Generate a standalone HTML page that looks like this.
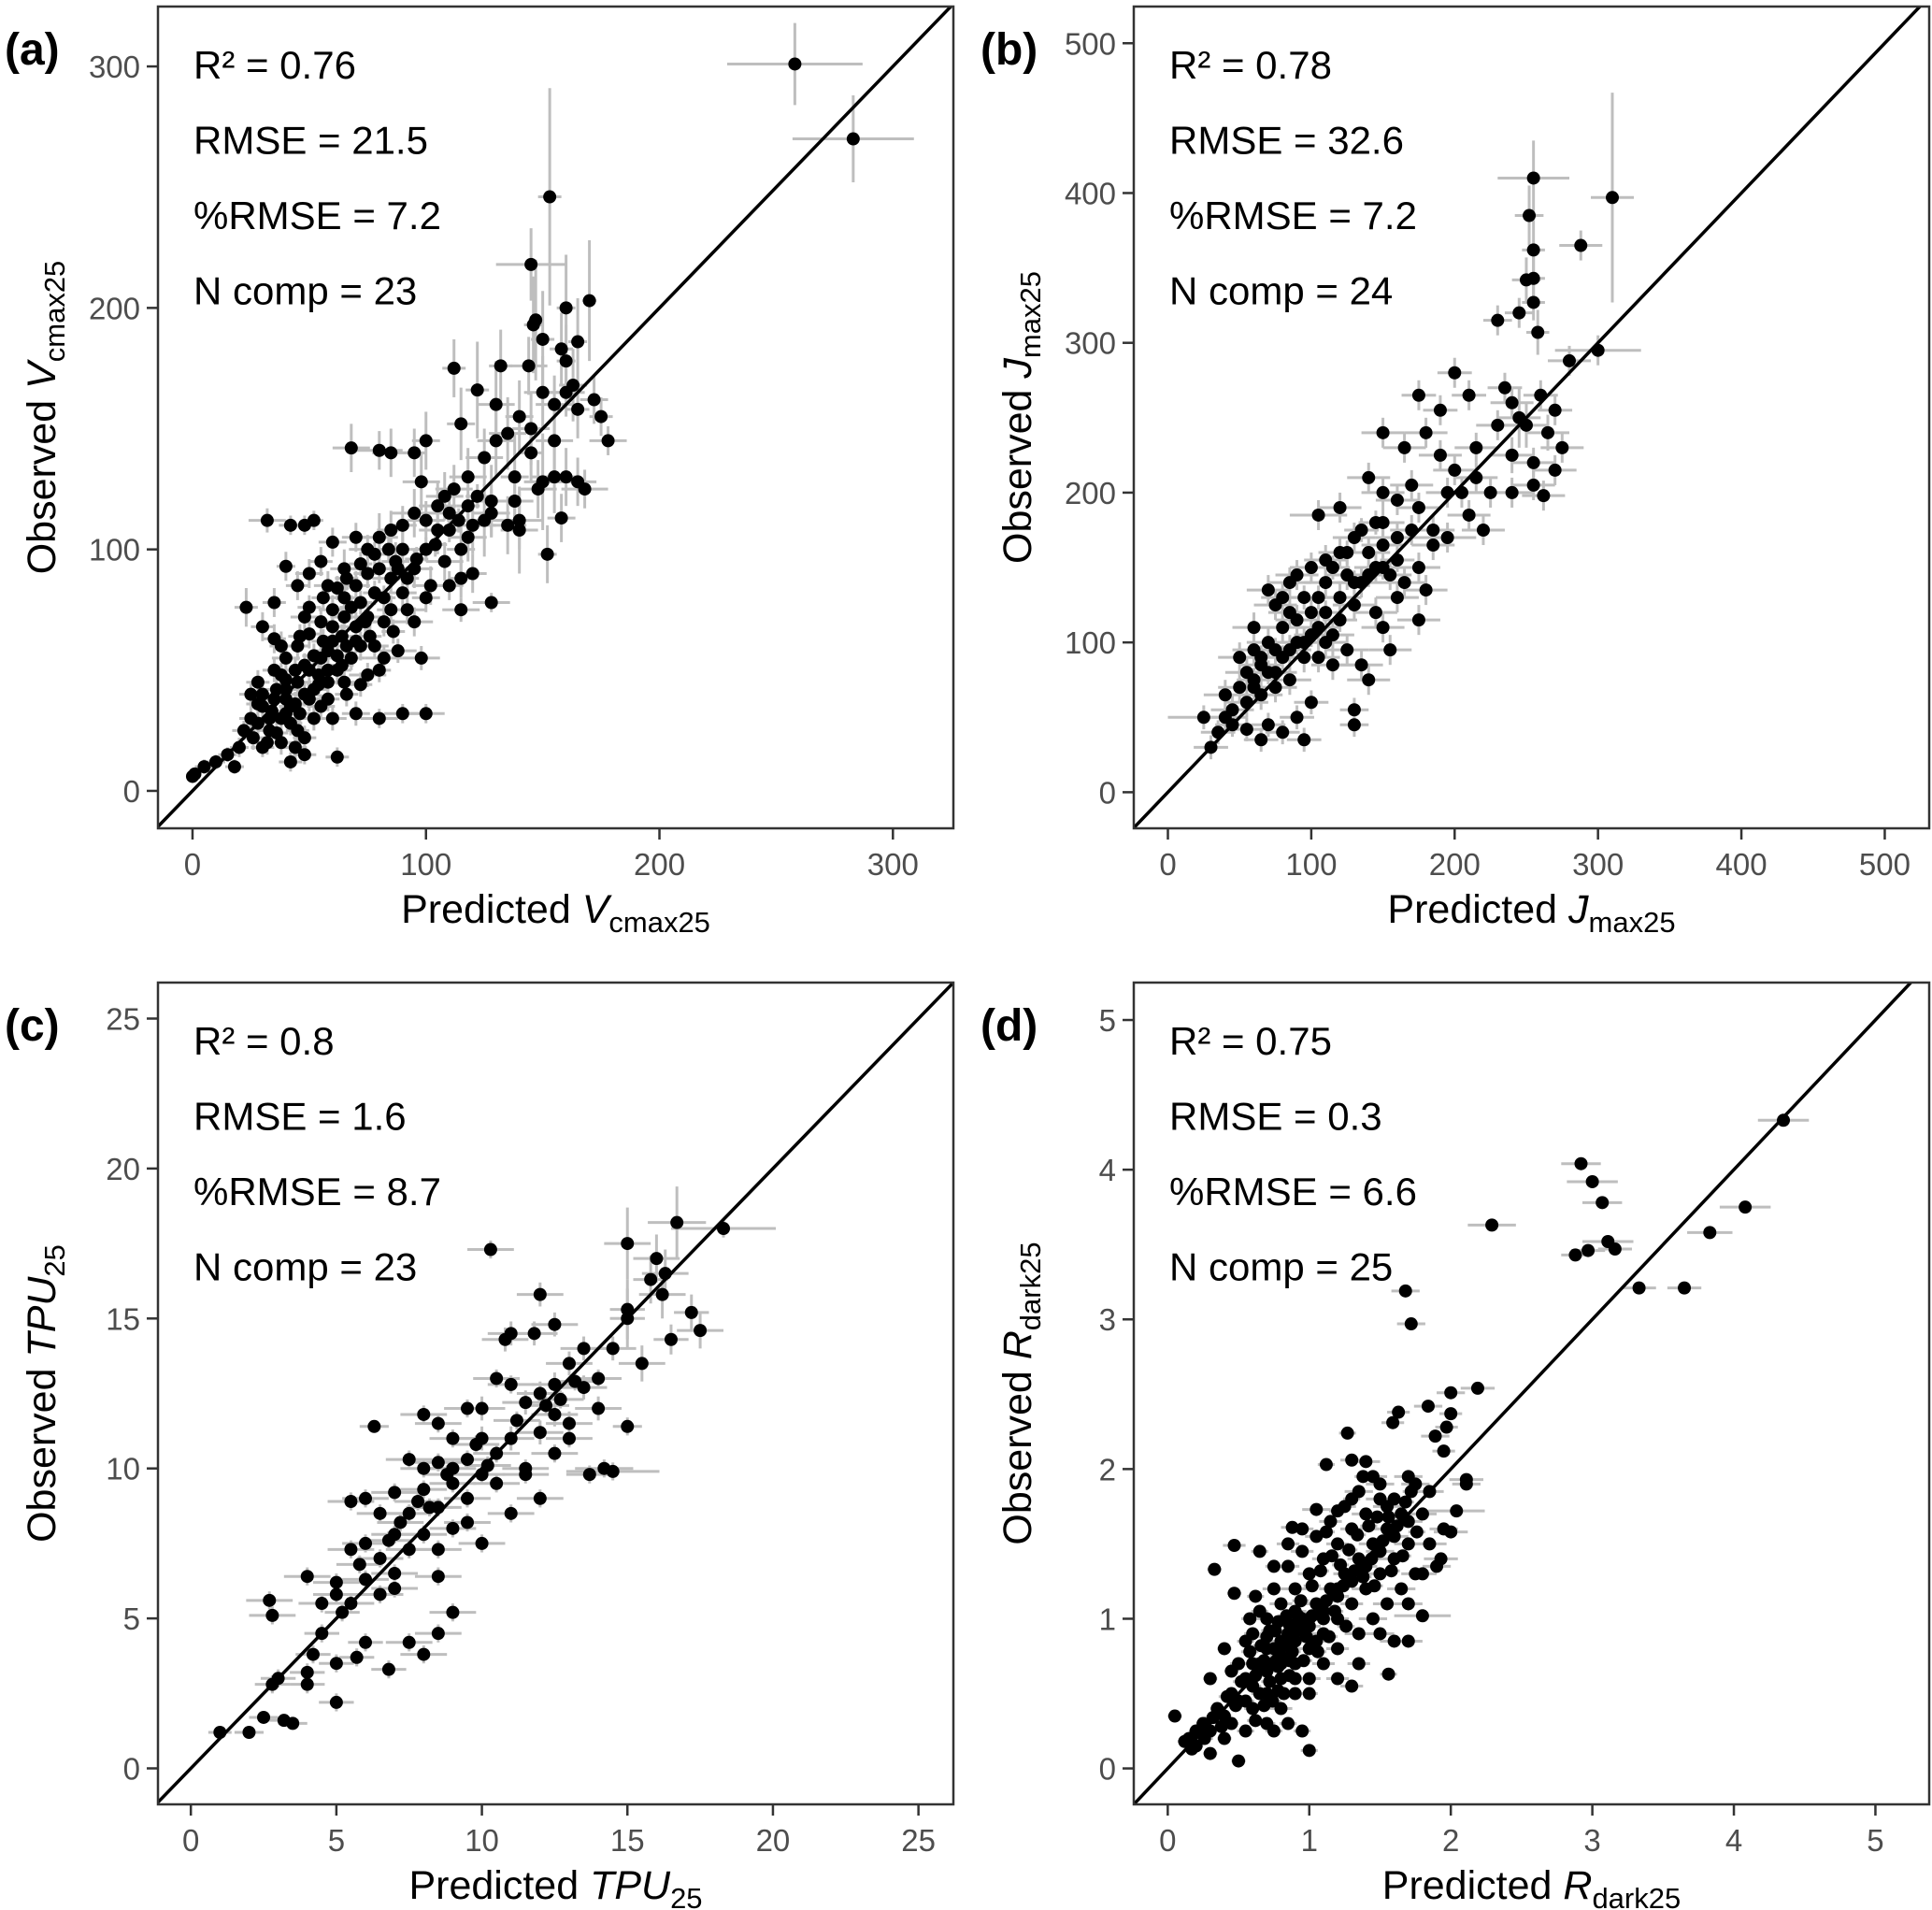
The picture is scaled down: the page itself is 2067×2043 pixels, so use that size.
<!DOCTYPE html>
<html><head><meta charset="utf-8"><style>
html,body{margin:0;padding:0;background:#fff;}
svg{display:block;font-family:"Liberation Sans",Arial,sans-serif;}
</style></head><body>
<svg id="fig" width="2067" height="2043" viewBox="0 0 2067 2043" xmlns="http://www.w3.org/2000/svg"></svg>
<script>
// Panel data: [predicted, observed, x-error, y-error]
const pointsA = [[258,301,29,17],[283,270,26,18],[153,246,5,45],[145,218,15,15],[170,203,3,25],[160,200,4,22],[147,195,3,25],[146,193,4,20],[150,187,5,20],[165,186,4,18],[158,183,5,15],[160,178,4,15],[144,176,8,12],[132,176,5,15],[112,175,5,12],[163,168,6,15],[160,165,8,10],[172,162,6,10],[175,155,5,8],[178,145,8,6],[165,158,5,12],[155,160,8,12],[140,155,6,15],[130,160,8,18],[122,166,5,20],[115,152,6,15],[100,145,6,12],[95,140,5,10],[85,140,8,10],[68,142,8,10],[80,141,10,8],[130,145,8,15],[145,140,5,12],[138,130,6,18],[150,128,8,20],[160,130,6,12],[168,125,10,8],[165,128,8,10],[155,130,10,15],[128,120,8,15],[120,110,10,12],[110,115,6,10],[125,112,8,15],[135,110,8,12],[140,108,8,18],[115,100,6,10],[105,108,8,10],[100,112,8,8],[95,115,10,10],[90,110,6,8],[85,108,6,8],[80,105,8,10],[140,112,10,12],[158,113,6,10],[152,98,4,12],[120,90,6,8],[115,88,5,8],[110,85,6,6],[100,80,6,6],[90,82,6,8],[128,78,8,4],[115,75,8,5],[95,92,8,8],[87,95,6,8],[75,100,8,6],[70,105,6,6],[60,103,6,6],[55,95,5,6],[50,90,6,6],[45,85,5,6],[40,93,4,6],[35,78,5,6],[23,76,5,8],[32,112,8,5],[42,110,5,4],[48,110,5,4],[52,112,4,4],[30,68,5,6],[35,63,5,6],[40,55,6,5],[45,60,5,6],[50,65,6,6],[55,70,6,6],[60,75,6,6],[65,80,6,6],[70,85,6,6],[75,90,6,6],[80,92,6,6],[85,88,8,6],[65,72,6,6],[70,68,6,6],[60,62,6,6],[55,55,6,6],[50,50,6,6],[45,45,6,6],[40,42,6,6],[35,38,6,5],[30,35,5,5],[25,30,5,5],[22,25,5,4],[28,45,5,5],[38,48,5,5],[48,40,6,5],[58,45,6,5],[68,55,6,5],[78,60,6,5],[88,58,8,5],[98,55,8,5],[82,55,8,5],[75,48,8,5],[65,45,6,5],[55,35,6,5],[60,30,6,5],[70,32,6,5],[80,30,8,4],[90,32,8,4],[100,32,8,4],[45,25,5,5],[38,20,5,5],[42,12,5,4],[48,15,5,4],[62,14,5,4],[30,18,5,4],[20,18,4,4],[18,10,4,3],[10,12,4,3],[5,10,4,3],[1,7,2,2],[0,6,2,2],[15,15,4,3],[33,30,5,5],[42,35,5,5],[52,42,6,5],[62,50,6,6],[72,60,6,6],[82,70,6,6],[92,75,8,6],[102,85,8,8],[108,95,8,8],[118,105,8,10],[128,115,8,10],[138,120,8,12],[148,125,8,12],[58,85,6,6],[48,72,6,6],[38,60,5,6],[65,92,6,8],[90,100,8,8],[105,118,8,10],[112,125,8,10],[118,130,8,12],[125,138,8,12],[135,148,8,15],[145,150,8,15],[150,165,8,15],[155,145,8,15],[108,122,8,10],[98,128,8,12],[75,72,6,6],[85,75,6,6],[95,70,8,6],[35,50,5,5],[25,40,5,5],[28,28,5,5],[33,25,5,5]];
const moreA = [[36,42,5,5],[40,38,5,5],[44,36,5,5],[34,33,5,5],[38,30,5,5],[42,28,5,5],[46,32,5,5],[50,38,5,5],[54,44,5,5],[52,56,5,5],[56,62,5,5],[60,68,5,5],[64,64,5,5],[58,58,5,5],[62,56,5,5],[66,60,5,5],[68,76,5,5],[72,78,5,5],[74,70,5,5],[78,82,5,5],[82,80,5,5],[76,64,5,5],[70,62,5,5],[64,52,5,5],[58,50,5,5],[54,48,5,5],[48,52,5,5],[44,50,5,5],[40,46,5,5],[30,40,5,5],[28,36,5,5],[26,22,5,5],[32,20,5,5],[36,24,5,5],[40,32,5,5],[46,64,5,5],[50,76,5,5],[56,80,5,5],[62,84,5,5],[66,88,5,5],[72,94,5,5],[78,98,5,5],[84,100,5,5],[88,92,5,5],[92,88,5,5],[96,96,5,5],[100,100,5,5],[104,102,5,5],[110,108,5,5],[114,112,5,5],[118,118,5,5],[122,122,5,5],[86,66,5,5],[80,50,5,5],[72,44,5,5],[66,40,5,5],[58,38,5,5],[52,30,5,5],[48,22,5,5],[44,18,5,5]];
const pointsB = [[255,410,25,25],[310,397,15,70],[252,385,10,20],[288,365,15,10],[255,362,8,20],[250,342,10,15],[255,343,8,15],[255,327,8,12],[258,307,8,15],[245,320,10,10],[230,315,10,10],[200,280,12,10],[175,265,12,10],[190,255,12,10],[210,265,12,10],[235,270,12,10],[260,265,12,10],[270,255,12,10],[300,295,30,10],[280,288,15,10],[245,250,15,20],[250,245,15,15],[265,240,15,12],[275,230,15,10],[240,225,15,12],[255,220,15,10],[270,215,15,10],[255,205,15,10],[262,198,15,10],[240,200,15,10],[225,200,15,10],[215,210,15,10],[205,200,15,10],[200,215,15,10],[190,225,15,10],[180,240,15,10],[165,230,15,10],[150,240,15,10],[140,210,15,10],[150,200,15,10],[160,195,15,10],[175,190,15,10],[185,175,15,10],[195,170,20,10],[170,175,15,10],[160,170,15,10],[150,165,15,10],[140,160,15,10],[130,170,15,10],[120,160,15,10],[110,155,15,10],[125,145,15,10],[135,140,15,10],[145,150,15,10],[155,145,15,10],[165,140,15,10],[175,150,15,10],[180,135,15,10],[145,120,15,10],[130,125,15,10],[120,130,15,10],[110,140,15,10],[100,120,15,10],[90,115,15,10],[80,110,15,10],[70,100,15,10],[60,95,15,10],[50,90,15,10],[55,80,15,10],[65,85,15,10],[75,80,15,10],[85,75,15,10],[95,100,15,10],[105,110,15,10],[115,105,15,10],[125,95,15,10],[135,85,15,10],[140,75,15,10],[130,55,10,8],[130,45,10,8],[105,90,15,10],[115,85,15,10],[95,90,15,10],[85,95,15,10],[75,70,15,10],[65,65,15,10],[55,60,15,10],[45,55,15,10],[40,50,15,10],[35,40,12,8],[30,30,12,8],[25,50,25,8],[45,45,12,8],[55,42,12,8],[65,35,12,8],[80,40,12,8],[95,35,12,8],[105,185,20,10],[100,150,15,10],[90,145,15,10],[80,130,15,10],[70,135,15,10],[120,190,15,10],[85,120,15,10],[60,110,15,10],[50,70,15,10],[40,65,15,10],[110,100,15,10],[150,180,15,10],[170,205,15,10],[185,165,15,10],[210,185,15,10],[220,175,15,10],[195,200,15,10],[215,230,15,10],[230,245,15,10],[240,260,15,10],[150,110,15,10],[155,95,15,10],[160,130,15,10],[175,115,15,10],[100,60,12,8],[90,50,12,8],[70,45,12,8],[60,75,12,8],[75,125,15,10],[85,140,15,10],[70,80,12,8],[80,90,12,8],[90,100,12,8],[100,105,12,8],[110,120,12,8],[120,115,12,8],[130,140,12,8],[140,145,12,8],[150,150,12,8],[160,155,12,8],[60,70,12,8],[65,90,12,8],[75,95,12,8],[95,130,12,8],[105,130,12,8],[115,150,12,8],[125,160,12,8],[135,175,12,8],[145,180,12,8]];
const pointsC = [[18.3,18,1.8,0.3],[16.7,18.2,1,1.2],[15,17.5,0.8,1.2],[10.3,17.3,0.8,0.3],[16,17,0.8,0.8],[16.3,16.5,0.8,0.8],[15.8,16.3,0.6,0.8],[16.2,15.8,0.8,0.8],[12,15.8,0.8,0.4],[17.2,15.2,0.6,0.6],[17.5,14.6,0.8,0.6],[16.5,14.3,0.6,0.5],[15,15.3,0.6,1],[15,15,0.6,1],[12.5,14.8,0.8,0.4],[11,14.5,0.8,0.4],[10.8,14.3,0.8,0.4],[11.8,14.5,0.8,0.4],[13.5,14,0.8,0.4],[14.5,14,0.8,0.4],[15.5,13.5,0.8,0.6],[13,13.5,0.8,0.4],[12.5,12.8,0.8,0.4],[12,12.5,0.8,0.4],[11.5,12.2,0.8,0.4],[10,12,0.8,0.4],[8,11.8,0.8,0.3],[6.3,11.4,0.5,0.2],[8.5,11.5,0.8,0.3],[9,11,0.8,0.3],[10,11,0.8,0.4],[11,11,0.8,0.4],[12,11.2,0.8,0.4],[13,11.5,0.8,0.4],[13.5,12.7,0.8,0.4],[14,12,0.8,0.4],[12.5,11.8,0.8,0.4],[9.5,10.3,0.8,0.3],[8.5,10.2,0.8,0.3],[8,10,0.8,0.3],[7.5,10.3,0.8,0.3],[9,10,0.8,0.3],[10.5,10.5,0.8,0.3],[11.5,10,0.8,0.3],[10,9.8,0.8,0.3],[9,9.5,0.8,0.3],[8,9.3,0.8,0.3],[7,9.2,0.8,0.3],[6,9,0.8,0.3],[5.5,8.9,0.8,0.3],[6.5,8.5,0.8,0.3],[7.5,8.5,0.8,0.3],[8.5,8.7,0.8,0.3],[9.5,9,0.8,0.3],[10.5,9.5,0.8,0.3],[11,8.5,0.8,0.3],[12,9,0.8,0.3],[14.2,10,1,0.3],[14.5,9.9,1.6,0.3],[15,11.4,0.5,0.3],[9,8,0.8,0.3],[8,7.8,0.8,0.3],[7,7.8,0.8,0.3],[6,7.5,0.8,0.3],[5.5,7.3,0.8,0.3],[6.5,7,0.8,0.3],[7.5,7.3,0.8,0.3],[8.5,7.3,0.8,0.3],[10,7.5,0.8,0.3],[7,6.5,0.8,0.3],[6,6.3,0.8,0.3],[5,6.2,0.8,0.3],[4,6.4,0.8,0.3],[2.7,5.6,0.8,0.3],[2.8,5.1,0.8,0.3],[4.5,5.5,0.8,0.3],[5,5.8,0.8,0.3],[5.5,5.5,0.8,0.3],[6.5,5.8,0.8,0.3],[7,6,0.8,0.3],[8.5,6.4,0.8,0.3],[9,5.2,0.8,0.3],[8.5,4.5,0.8,0.3],[7.5,4.2,0.8,0.3],[8,3.8,0.8,0.3],[6.8,3.3,0.6,0.3],[5.7,3.7,0.6,0.3],[5,3.5,0.6,0.3],[4.2,3.8,0.6,0.3],[4,3.2,0.6,0.3],[4,2.8,0.6,0.3],[5,2.2,0.6,0.3],[3,3,0.6,0.3],[2.8,2.8,0.6,0.3],[2.5,1.7,0.5,0.2],[3.2,1.6,0.5,0.2],[3.5,1.5,0.5,0.2],[2,1.2,0.5,0.2],[1,1.2,0.4,0.2],[4.5,4.5,0.6,0.3],[6,4.2,0.6,0.3],[5.2,5.2,0.6,0.3],[9.5,8.2,0.8,0.3],[11.5,9.8,0.8,0.3],[12.5,10.5,0.8,0.3],[13,11,0.8,0.3],[13.7,9.8,0.8,0.3],[12.7,12.3,0.8,0.3],[14,13,0.8,0.3],[11,12.8,0.8,0.3],[10.5,13,0.8,0.3],[9.5,12,0.8,0.3],[8.2,8.7,0.8,0.3],[7.2,8.2,0.8,0.3],[9.8,10.8,0.8,0.3],[10.2,10.1,0.8,0.3],[11.2,11.6,0.8,0.3],[12.2,12.1,0.8,0.3],[13.2,12.9,0.8,0.3],[7.8,8.9,0.8,0.3],[6.8,7.6,0.8,0.3],[5.8,6.8,0.8,0.3],[8.8,9.8,0.8,0.3]];
const pointsD = [[4.35,4.33,0.18,0.02],[4.08,3.75,0.18,0.02],[3.83,3.58,0.16,0.02],[3.65,3.21,0.12,0.02],[3.33,3.21,0.12,0.02],[2.92,4.04,0.14,0.02],[3,3.92,0.18,0.02],[3.07,3.78,0.14,0.02],[2.29,3.63,0.17,0.02],[3.11,3.52,0.18,0.02],[3.16,3.47,0.12,0.02],[2.97,3.46,0.12,0.02],[2.88,3.43,0.1,0.02],[1.68,3.19,0.1,0.02],[1.72,2.97,0.1,0.02],[2.19,2.54,0.12,0.02],[2,2.51,0.1,0.02],[1.84,2.42,0.1,0.02],[1.63,2.38,0.08,0.02],[2,2.37,0.08,0.02],[1.59,2.31,0.08,0.02],[1.97,2.28,0.08,0.02],[1.89,2.22,0.1,0.02],[1.27,2.24,0.06,0.02],[1.95,2.12,0.08,0.02],[2.11,1.93,0.12,0.02],[2.11,1.9,0.1,0.02],[2.04,1.72,0.2,0.02],[2,1.58,0.12,0.02],[1.93,1.4,0.12,0.02],[1.8,1.02,0.2,0.02],[1.56,0.63,0.06,0.02],[1.7,0.85,0.1,0.02],[1,0.12,0.06,0.02],[0.5,0.05,0.05,0.02],[0.05,0.35,0.05,0.02],[0.33,1.33,0.05,0.02],[0.47,1.49,0.08,0.02],[0.47,1.17,0.05,0.02],[1.05,1.73,0.1,0.02],[0.88,1.61,0.08,0.02],[1.12,2.03,0.06,0.02],[1.3,2.06,0.08,0.02],[1.4,2.05,0.1,0.02],[1.5,1.9,0.1,0.02],[1.7,1.95,0.1,0.02],[1.6,1.8,0.1,0.02],[1.75,1.9,0.1,0.02],[0.15,0.2,0.05,0.02],[0.2,0.15,0.05,0.02],[0.25,0.3,0.05,0.02],[0.3,0.25,0.05,0.02],[0.35,0.4,0.05,0.02],[0.4,0.35,0.05,0.02],[0.45,0.5,0.06,0.02],[0.5,0.45,0.06,0.02],[0.55,0.6,0.06,0.02],[0.6,0.55,0.06,0.02],[0.65,0.7,0.06,0.02],[0.7,0.65,0.06,0.02],[0.75,0.8,0.08,0.02],[0.8,0.75,0.08,0.02],[0.85,0.9,0.08,0.02],[0.9,0.85,0.08,0.02],[0.95,1,0.08,0.02],[1,0.95,0.08,0.02],[1.05,1.1,0.08,0.02],[1.1,1.05,0.08,0.02],[1.15,1.2,0.08,0.02],[1.2,1.15,0.08,0.02],[1.25,1.3,0.08,0.02],[1.3,1.25,0.08,0.02],[1.35,1.4,0.08,0.02],[1.4,1.35,0.08,0.02],[1.45,1.5,0.1,0.02],[1.5,1.45,0.1,0.02],[1.55,1.6,0.1,0.02],[1.6,1.55,0.1,0.02],[1.65,1.7,0.1,0.02],[1.7,1.65,0.1,0.02],[0.6,0.9,0.06,0.02],[0.7,1,0.08,0.02],[0.8,1.1,0.08,0.02],[0.9,1.2,0.08,0.02],[1,1.3,0.08,0.02],[1.1,1.4,0.08,0.02],[1.2,1.5,0.08,0.02],[1.3,1.6,0.08,0.02],[1.4,1.7,0.1,0.02],[1.5,1.8,0.1,0.02],[0.6,0.4,0.06,0.02],[0.7,0.5,0.06,0.02],[0.8,0.6,0.08,0.02],[0.9,0.7,0.08,0.02],[1,0.8,0.08,0.02],[1.1,0.9,0.08,0.02],[1.2,1,0.08,0.02],[1.3,1.1,0.08,0.02],[1.4,1.2,0.1,0.02],[1.5,1.3,0.1,0.02],[1.6,1.4,0.1,0.02],[1.7,1.5,0.1,0.02],[0.5,0.7,0.06,0.02],[0.55,0.85,0.06,0.02],[0.65,1.05,0.06,0.02],[0.75,1.2,0.08,0.02],[0.85,1.35,0.08,0.02],[0.95,1.45,0.08,0.02],[1.05,1.55,0.08,0.02],[0.7,0.3,0.06,0.02],[0.8,0.4,0.08,0.02],[0.9,0.5,0.08,0.02],[1,0.6,0.08,0.02],[1.1,0.7,0.08,0.02],[1.2,0.8,0.08,0.02],[1.35,0.9,0.1,0.02],[1.45,1,0.1,0.02],[1.55,1.1,0.1,0.02],[1.65,1.2,0.1,0.02],[1.75,1.3,0.1,0.02],[1.85,1.5,0.12,0.02],[0.3,0.1,0.05,0.02],[0.4,0.2,0.05,0.02],[0.55,0.25,0.06,0.02],[0.75,0.25,0.06,0.02],[0.85,0.3,0.06,0.02],[0.95,0.25,0.06,0.02],[0.3,0.6,0.05,0.02],[0.4,0.8,0.05,0.02],[0.45,0.65,0.05,0.02],[0.65,1.45,0.06,0.02],[0.75,1.35,0.06,0.02],[0.85,1.5,0.08,0.02],[0.95,1.6,0.08,0.02],[1.15,1.65,0.08,0.02],[1.25,1.75,0.08,0.02],[1.35,1.85,0.1,0.02],[1.45,1.95,0.1,0.02],[1.55,1.75,0.1,0.02],[1.1,1,0.08,0.02],[0.9,0.95,0.08,0.02],[0.8,0.85,0.08,0.02],[0.7,0.8,0.08,0.02],[0.6,0.7,0.06,0.02],[1.2,0.6,0.08,0.02],[1.3,0.55,0.08,0.02],[1.35,0.7,0.08,0.02],[1.5,0.9,0.1,0.02],[1.6,0.85,0.1,0.02],[1.7,1.1,0.1,0.02],[1.8,1.3,0.1,0.02],[1.9,1.35,0.1,0.02],[1.95,1.6,0.1,0.02],[1.8,1.7,0.1,0.02],[1.85,1.85,0.1,0.02],[1.2,1.2,0.08,0.02],[1,1,0.08,0.02],[0.9,1.05,0.08,0.02],[1.05,0.85,0.08,0.02],[0.65,0.5,0.06,0.02],[0.55,0.45,0.06,0.02],[0.45,0.3,0.05,0.02],[0.2,0.25,0.05,0.02],[0.12,0.18,0.05,0.02],[0.17,0.13,0.05,0.02]];
const moreD = [[0.62,0.62,0.06,0.02],[0.68,0.72,0.06,0.02],[0.72,0.58,0.06,0.02],[0.78,0.68,0.06,0.02],[0.82,0.82,0.06,0.02],[0.88,0.78,0.06,0.02],[0.92,0.92,0.06,0.02],[0.98,0.88,0.06,0.02],[0.76,0.92,0.06,0.02],[0.84,1.02,0.06,0.02],[0.94,1.12,0.06,0.02],[1.02,1.22,0.06,0.02],[1.08,1.32,0.06,0.02],[1.16,1.42,0.06,0.02],[1.22,1.36,0.06,0.02],[1.28,1.46,0.06,0.02],[1.34,1.56,0.06,0.02],[1.42,1.62,0.06,0.02],[1.48,1.68,0.06,0.02],[1.56,1.68,0.06,0.02],[1.62,1.62,0.06,0.02],[1.68,1.78,0.06,0.02],[1.72,1.85,0.06,0.02],[1.12,1.12,0.06,0.02],[1.18,1.05,0.06,0.02],[1.24,1.22,0.06,0.02],[1.32,1.32,0.06,0.02],[1.38,1.28,0.06,0.02],[1.44,1.4,0.06,0.02],[1.52,1.52,0.06,0.02],[0.72,0.92,0.06,0.02],[0.66,0.82,0.06,0.02],[0.58,0.78,0.06,0.02],[0.52,0.58,0.06,0.02],[0.48,0.42,0.06,0.02],[0.42,0.48,0.06,0.02],[0.38,0.28,0.06,0.02],[0.32,0.34,0.06,0.02],[0.26,0.2,0.06,0.02],[0.62,0.32,0.06,0.02],[0.68,0.42,0.06,0.02],[0.78,0.52,0.06,0.02],[0.86,0.62,0.06,0.02],[0.96,0.72,0.06,0.02],[1.06,0.78,0.06,0.02],[1.14,0.88,0.06,0.02],[1.26,0.95,0.06,0.02],[1.02,1.02,0.06,0.02],[0.92,1.02,0.06,0.02],[0.86,0.96,0.06,0.02],[0.78,0.98,0.06,0.02],[0.7,0.88,0.06,0.02],[1.46,1.22,0.06,0.02],[1.58,1.32,0.06,0.02],[1.66,1.42,0.06,0.02],[1.76,1.58,0.06,0.02],[1.12,1.58,0.06,0.02],[1.2,1.72,0.06,0.02],[1.3,1.8,0.06,0.02],[1.38,1.95,0.06,0.02],[0.58,1.0,0.06,0.02],[0.62,1.15,0.06,0.02],[0.74,0.7,0.06,0.02],[0.8,0.7,0.06,0.02],[0.86,0.72,0.06,0.02],[0.9,0.6,0.06,0.02],[1.0,0.5,0.06,0.02],[0.74,0.45,0.06,0.02],[0.82,0.5,0.06,0.02]];
const ticksA = [0,100,200,300];
const ticksB = [0,100,200,300,400,500];
const ticksC = [0,5,10,15,20,25];
const ticksD = [0,1,2,3,4,5];
const statsA = ["R² = 0.76","RMSE = 21.5","%RMSE = 7.2","N comp = 23"];
const statsB = ["R² = 0.78","RMSE = 32.6","%RMSE = 7.2","N comp = 24"];
const statsC = ["R² = 0.8","RMSE = 1.6","%RMSE = 8.7","N comp = 23"];
const statsD = ["R² = 0.75","RMSE = 0.3","%RMSE = 6.6","N comp = 25"];

const NS="http://www.w3.org/2000/svg";
const svg=document.getElementById('fig');
function el(tag,attrs,parent){const e=document.createElementNS(NS,tag);for(const k in attrs)e.setAttribute(k,attrs[k]);(parent||svg).appendChild(e);return e;}

function panel(o){
  const g=el('g',{});
  
  
  const L=o.left,T=o.top,W=851,H=879;
  const sx=v=>L+(v-o.xd[0])/(o.xd[1]-o.xd[0])*W;
  const sy=v=>T+H-(v-o.yd[0])/(o.yd[1]-o.yd[0])*H;
  const clip=el('clipPath',{id:'clip'+o.id},g);
  el('rect',{x:L,y:T,width:W,height:H},clip);
  const plot=el('g',{'clip-path':'url(#clip'+o.id+')'},g);
  const eb=el('g',{stroke:'#bebebe','stroke-width':3},plot);
  
  
  o.pts.forEach(p=>{
    el('line',{x1:sx(p[0]-p[2]),x2:sx(p[0]+p[2]),y1:sy(p[1]),y2:sy(p[1])},eb);
    el('line',{x1:sx(p[0]),x2:sx(p[0]),y1:sy(p[1]-p[3]),y2:sy(p[1]+p[3])},eb);
  });
  const lo=Math.min(o.xd[0],o.yd[0]),hi=Math.max(o.xd[1],o.yd[1]);
  const ln=el('line',{x1:sx(lo),y1:sy(lo),x2:sx(hi),y2:sy(hi),stroke:'#000','stroke-width':3.5},plot);
  
  
  const pg=el('g',{fill:'#000'},plot);
  
  
  o.pts.forEach(p=>{
    const c=el('circle',{cx:sx(p[0]),cy:sy(p[1]),r:7},pg);
    
    
  });
  const fr=el('rect',{x:L,y:T,width:W,height:H,fill:'none',stroke:'#333','stroke-width':2.5},g);
  
  
  o.ticks.forEach(t=>{
    el('line',{x1:sx(t),x2:sx(t),y1:T+H,y2:T+H+12,stroke:'#333','stroke-width':2.5},g);
    const xt=el('text',{x:sx(t),y:T+H+50,'text-anchor':'middle','font-size':33,fill:'#4d4d4d'},g);
    xt.textContent=t;
    
    
  });
  o.yticks.forEach(t=>{
    el('line',{x1:L-12,x2:L,y1:sy(t),y2:sy(t),stroke:'#333','stroke-width':2.5},g);
    const yt=el('text',{x:L-19,y:sy(t)+12,'text-anchor':'end','font-size':33,fill:'#4d4d4d'},g);
    yt.textContent=t;
    
    
  });
  o.stats.forEach((s,i)=>{
    const st=el('text',{x:L+38,y:T+77+i*80.5,'font-size':42,fill:'#000'},g);
    st.textContent=s;
    
    
  });
  const tg=el('text',{x:L-164,y:T+62,'font-size':48,'font-weight':'bold',fill:'#000'},g);
  tg.textContent='('+o.id+')';
  
  
  const xt=el('text',{x:L+W/2,y:T+H+101,'text-anchor':'middle','font-size':43,fill:'#000'},g);
  
  
  xt.innerHTML='Predicted <tspan font-style="italic">'+o.sym+'</tspan><tspan font-size="31" dy="10">'+o.sub+'</tspan>';
  const yx=L-110,yy=T+H/2;
  const yt=el('text',{x:yx,y:yy,'text-anchor':'middle','font-size':43,fill:'#000',transform:'rotate(-90 '+yx+' '+yy+')'},g);
  
  
  yt.innerHTML='Observed <tspan font-style="italic">'+o.sym+'</tspan><tspan font-size="31" dy="10">'+o.sub+'</tspan>';
}
panel({id:'a',left:169,top:7,xd:[-14.8,325.9],yd:[-15.5,324.8],pts:pointsA.concat(moreA),ticks:ticksA,yticks:ticksA,stats:statsA,sym:'V',sub:'cmax25'});
panel({id:'b',left:1213,top:7,xd:[-23.8,531],yd:[-24.1,524.5],pts:pointsB,ticks:ticksB,yticks:ticksB,stats:statsB,sym:'J',sub:'max25'});
panel({id:'c',left:169,top:1051,xd:[-1.13,26.2],yd:[-1.2,26.2],pts:pointsC,ticks:ticksC,yticks:ticksC,stats:statsC,sym:'TPU',sub:'25'});
panel({id:'d',left:1213,top:1051,xd:[-0.24,5.38],yd:[-0.24,5.25],pts:pointsD.concat(moreD),ticks:ticksD,yticks:ticksD,stats:statsD,sym:'R',sub:'dark25'});
</script>
</body></html>
